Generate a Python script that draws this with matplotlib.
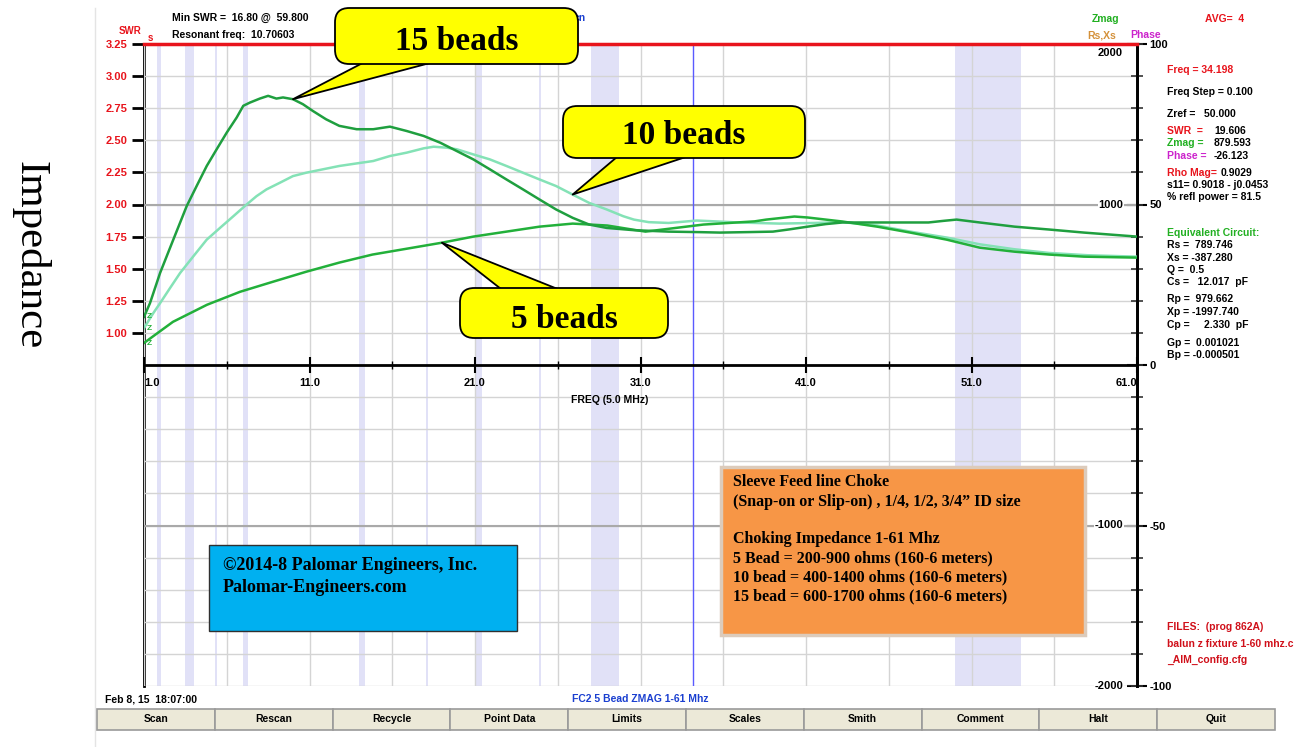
import numpy as np
import matplotlib.pyplot as plt
from matplotlib.patches import FancyBboxPatch, Rectangle
from matplotlib.lines import Line2D

W, H = 1298, 747

# curvas medidas: freq (MHz) e Zmag (ohms)
f15 = [1.0, 1.36, 1.97, 2.77, 3.58, 4.18, 4.79, 5.39, 6.0, 6.6, 7.0, 7.4, 8.0, 8.5, 9.0, 9.4, 10.0,
       10.6, 11.2, 12.0, 12.8, 13.85, 14.85, 15.86, 16.87, 17.9, 18.9, 19.9, 20.9, 21.9, 22.9, 23.9,
       24.9, 25.9, 26.9, 27.9, 28.96, 30.6, 32.7, 34.5, 35.8, 37.5, 39.0, 40.0, 41.1, 42.2, 43.2,
       46.1, 48.4, 49.3, 50.1, 51.5, 53.6, 55.7, 57.8, 61.0]
z15 = [300, 385, 573, 781, 990, 1115, 1240, 1344, 1448, 1542, 1615, 1635, 1660, 1677, 1660, 1667, 1656,
       1625, 1583, 1531, 1490, 1469, 1469, 1485, 1458, 1427, 1385, 1333, 1281, 1219, 1156, 1094,
       1031, 969, 917, 875, 854, 840, 831, 828, 825, 828, 831, 845, 862, 878, 888,
       888, 888, 898, 906, 888, 862, 844, 825, 800]

f10 = [1.0, 1.56, 1.97, 2.57, 3.18, 3.98, 4.79, 5.59, 6.4, 7.2, 7.8, 8.4, 9.2, 10.0, 10.8, 11.8,
       12.8, 13.85, 14.85, 15.86, 16.87, 17.9, 18.5, 19.3, 19.9, 20.9, 21.9, 22.9, 23.9, 24.9, 25.9,
       26.9, 27.9, 28.96, 29.96, 30.6, 31.5, 32.7, 33.5, 34.4, 35.5, 36.9, 39.4, 41.5, 43.2, 45.3,
       47.3, 49.5, 51.5, 53.6, 55.7, 58.0, 61.0]
z10 = [230, 323, 385, 479, 573, 677, 781, 854, 927, 1000, 1052, 1094, 1135, 1177, 1198, 1219,
       1240, 1256, 1271, 1302, 1323, 1350, 1360, 1354, 1344, 1312, 1281, 1240, 1198, 1156, 1115,
       1062, 1010, 969, 927, 906, 890, 885, 892, 900, 895, 888, 881, 885, 890, 869,
       831, 794, 752, 721, 698, 684, 675]

f5 = [1.0, 1.5, 2.75, 4.8, 6.8, 8.8, 10.8, 12.8, 14.8, 16.9, 19.0, 20.9, 22.9, 24.9, 26.9, 29.0,
      30.5, 31.3, 34.8, 37.9, 38.6, 40.3, 41.1, 43.2, 45.3, 47.3, 49.5, 51.5, 53.6, 55.7, 57.8, 61.0]
z5 = [137, 175, 269, 375, 456, 519, 581, 638, 688, 725, 762, 800, 831, 862, 881, 869,
      844, 831, 875, 895, 906, 925, 919, 894, 862, 825, 781, 731, 706, 688, 675, 669]

ham_bands = [(1.8, 2.0), (3.5, 4.0), (5.3, 5.4), (7.0, 7.3), (10.1, 10.15), (14.0, 14.35),
             (18.068, 18.168), (21.0, 21.45), (24.89, 24.99), (28.0, 29.7), (50.0, 54.0)]
cursor_freq = 34.198
freq_ticks = [1, 11, 21, 31, 41, 51, 61]
swr_ticks = [1.00, 1.25, 1.50, 1.75, 2.00, 2.25, 2.50, 2.75, 3.00, 3.25]
phase_ticks = [-100, -50, 0, 50, 100]
zmag_labels = [2000, 1000, -1000, -2000]

panel = [  # (texto, cor, y)
    ('Freq = 34.198', '#e8141c', 70), ('Freq Step = 0.100', 'black', 92),
    ('Zref =   50.000', 'black', 114), ('s11= 0.9018 - j0.0453', 'black', 185),
    ('% refl power = 81.5', 'black', 197), ('Equivalent Circuit:', '#22b022', 233),
    ('Rs =  789.746', 'black', 245), ('Xs = -387.280', 'black', 258), ('Q =  0.5', 'black', 270),
    ('Cs =   12.017  pF', 'black', 282), ('Rp =  979.662', 'black', 299),
    ('Xp = -1997.740', 'black', 312), ('Cp =     2.330  pF', 'black', 325),
    ('Gp =  0.001021', 'black', 343), ('Bp = -0.000501', 'black', 355),
    ('FILES:  (prog 862A)', '#d0101a', 627), ('balun z fixture 1-60 mhz.c', '#d0101a', 644),
    ('_AIM_config.cfg', '#d0101a', 660)]
readings = [('SWR  =', '#e8141c', '19.606', 131), ('Zmag =', '#22b022', '879.593', 143),
            ('Phase =', '#cc22cc', '-26.123', 156)]
buttons = ['Scan', 'Rescan', 'Recycle', 'Point Data', 'Limits', 'Scales', 'Smith', 'Comment', 'Halt', 'Quit']

plt.rcParams['font.family'] = ['Liberation Sans', 'DejaVu Sans']
plt.rcParams['font.weight'] = 'bold'


def fx(x):
    return x / W


def fy(y):
    return 1 - y / H


fig = plt.figure(figsize=(W / 100, H / 100), dpi=100)


def txt(x, y, s, size=7.5, **kw):
    kw.setdefault('va', 'center')
    return fig.text(fx(x), fy(y), s, fontsize=size, **kw)


ax = fig.add_axes([fx(144), fy(686), (1137 - 144) / W, (686 - 44) / H])
ax.set_xlim(1, 61)
ax.set_ylim(-2000, 2000)
for lo, hi in ham_bands:
    ax.axvspan(lo, hi, color='#e1e1f7', lw=0, zorder=0)

ax.set_xticks(freq_ticks, labels=[f'{v:.1f}' for v in freq_ticks])
ax.set_xticks(np.arange(6, 60, 10), minor=True)
ax.set_yticks(np.arange(-2000, 2001, 200))
ax.grid(which='both', color='#d4d4d4', lw=1, zorder=1)
ax.set_axisbelow(True)
for z in [1000, -1000]:
    ax.axhline(z, color='#a9a9a9', lw=1.5, zorder=1)

ax.spines['left'].set_visible(False)
ax.spines['bottom'].set_position(('data', 0))
ax.spines['bottom'].set_linewidth(2)
ax.spines['right'].set_linewidth(2)
ax.spines['top'].set_color('#e8141c')
ax.spines['top'].set_linewidth(2.5)
ax.tick_params(axis='x', which='major', direction='inout', length=12, width=1.5, labelsize=8, pad=3)
ax.tick_params(axis='x', which='minor', direction='inout', length=6, width=1)
ax.tick_params(axis='y', left=False, labelleft=False, right=True, direction='inout',
               length=8, width=1.2, color='#333333')
xl = ax.get_xticklabels()
xl[0].set_ha('left')
xl[-1].set_ha('right')

ax.axvline(cursor_freq, color='#5a5aff', lw=1, zorder=2)

ax.plot(f5, z5, color='#22b03a', lw=1.8, zorder=4)
ax.plot(f10, z10, color='#84e2b6', lw=1.8, zorder=3)
ax.plot(f15, z15, color='#1f9f3f', lw=1.8, zorder=4)
for ff, zz in [(f15, z15), (f10, z10), (f5, z5)]:
    ax.annotate('Z', xy=(ff[0], zz[0]), xytext=(2, 0), textcoords='offset points',
                fontsize=6, color='#22b03a', va='center')

sax = ax.secondary_yaxis('left', functions=(lambda z: 2 + (z - 1000) / 800, lambda s: 1000 + (s - 2) * 800))
sax.set_yticks(swr_ticks, labels=[f'{v:.2f}' for v in swr_ticks])
sax.tick_params(length=9, width=2, color='black', labelcolor='#e8141c', labelsize=8, pad=3)
sax.spines['left'].set_linewidth(2)

pax = ax.secondary_yaxis('right', functions=(lambda z: z / 20, lambda p: p * 20))
pax.set_yticks(phase_ticks, labels=[str(v) for v in phase_ticks])
pax.tick_params(direction='inout', length=14, width=1.5, labelsize=8, pad=2)
pax.spines['right'].set_linewidth(2)

for z in zmag_labels:
    ax.annotate(str(z), xy=(1, z), xycoords=ax.get_yaxis_transform(), xytext=(-10, -3 if z == 2000 else 0),
                textcoords='offset points', ha='right', va='top' if z == 2000 else 'center', fontsize=8,
                bbox=dict(fc='white', ec='none', pad=0.5))


def callout(label, f, z, box, tw, dy):
    x0, y0, x1, y1 = box
    cx, cy = fx((x0 + x1) / 2), fy((y0 + y1) / 2)
    ax.annotate('', xy=(f, z), xytext=(cx, cy), textcoords='figure fraction',
                arrowprops=dict(arrowstyle=f'wedge,tail_width={tw},shrink_factor=0.5', fc='#ffff00',
                                ec='black', lw=1.3, shrinkA=0, shrinkB=0, mutation_scale=20), zorder=6)
    fig.add_artist(FancyBboxPatch((fx(x0), fy(y1)), (x1 - x0) / W, (y1 - y0) / H,
                                  boxstyle='round,pad=0,rounding_size=0.011', mutation_aspect=W / H,
                                  transform=fig.transFigure, fc='#ffff00', ec='black', lw=1.3, zorder=5))
    fig.text(cx, fy((y0 + y1) / 2 + dy), label, ha='center', va='center', fontsize=24,
             family='Liberation Serif', zorder=6)


# textos da janela do analisador
txt(172, 18, 'Min SWR =  16.80 @  59.800')
txt(172, 35, 'Resonant freq:  10.70603')
txt(574, 18, 'cn', color='#1a3fd0')
txt(141, 31, 'SWR', color='#e8141c', ha='right', size=7)
txt(148, 38, 's', color='#e8141c', size=7)
txt(1092, 19, 'Zmag', color='#22b022')
txt(1205, 19, 'AVG=  4', color='#e8141c')
txt(1087, 35, 'Rs,Xs', color='#d4913a')
txt(1130, 35, 'Phase', color='#cc22cc')
for s, c, y in panel:
    txt(1167, y, s, color=c)
for lab, c, val, y in readings:
    txt(1167, y, lab, color=c)
    txt(1214, y, val)
txt(1167, 173, 'Rho Mag=', color='#e8141c')
txt(1221, 173, '0.9029')
txt(610, 400, 'FREQ (5.0 MHz)', ha='center')
txt(105, 699, 'Feb 8, 15  18:07:00')
txt(640, 699, 'FC2 5 Bead ZMAG 1-61 Mhz', ha='center', color='#1a3fd0')

for i, name in enumerate(buttons):
    x0 = 97 + i * 117.8
    fig.add_artist(Rectangle((fx(x0), fy(730)), 117.8 / W, 21 / H, transform=fig.transFigure,
                             fc='#ece9d8', ec='#9a9a9a', lw=1.2, zorder=5))
    txt(x0 + 58.9, 719.5, name, ha='center', zorder=6)

fig.add_artist(Line2D([fx(95), fx(95)], [fy(8), fy(747)], color='#e4e4e4', lw=1, transform=fig.transFigure))

callout('15 beads', f15[16], z15[16], (335, 8, 578, 64), 1.4, 5)
callout('10 beads', f10[31], z10[31], (563, 106, 805, 158), 1.78, 4)
callout('5 beads', f5[10], z5[10], (460, 288, 668, 338), 1.45, 7)

# caixas de texto
fig.add_artist(Rectangle((fx(209), fy(631)), (517 - 209) / W, (631 - 545) / H, transform=fig.transFigure,
                         fc='#00b0f0', ec='#303030', lw=1, zorder=5))
txt(223, 565, '©2014-8 Palomar Engineers, Inc.', size=13, family='Liberation Serif', zorder=6)
txt(223, 588, 'Palomar-Engineers.com', size=13, family='Liberation Serif', zorder=6)

fig.add_artist(Rectangle((fx(721), fy(635)), (1085 - 721) / W, (635 - 467) / H, transform=fig.transFigure,
                         fc='#f79646', ec='#dccbbb', lw=2.5, zorder=5))
box_lines = [('Sleeve Feed line Choke', 482), ('(Snap-on or Slip-on) , 1/4, 1/2, 3/4\u201d ID size', 502),
             ('Choking Impedance 1-61 Mhz', 539), ('5 Bead = 200-900 ohms (160-6 meters)', 558),
             ('10 bead = 400-1400 ohms (160-6 meters)', 577), ('15 bead = 600-1700 ohms (160-6 meters)', 596)]
for s, y in box_lines:
    txt(733, y, s, size=11.5, family='Liberation Serif', zorder=6)

fig.text(fx(30), fy(255), 'Impedance', rotation=-90, ha='center', va='center', fontsize=31,
         family='Liberation Serif', fontweight='normal')

fig.savefig('out.png', dpi=100, facecolor='white')
